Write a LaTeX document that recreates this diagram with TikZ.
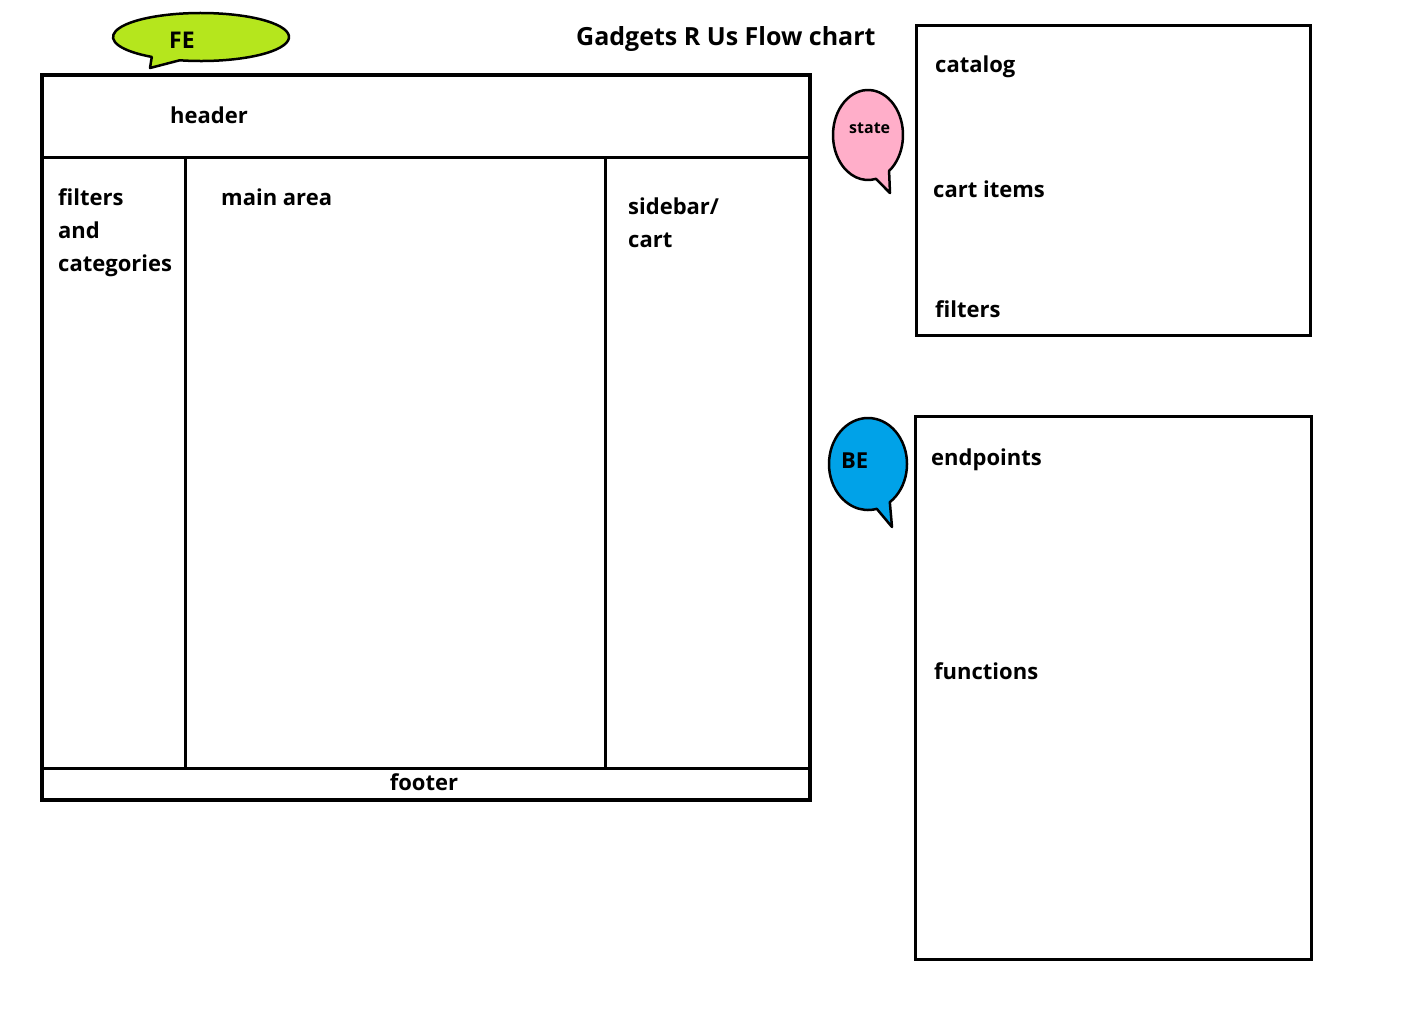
\documentclass[tikz,border=0pt]{standalone}
\usepackage{fontspec}
\setmainfont{Open Sans}
\usepackage{tikz}
\definecolor{fegreen}{HTML}{B5E61D}
\definecolor{statepink}{HTML}{FFAEC9}
\definecolor{beblue}{HTML}{00A2E8}
\tikzset{
  lbl/.style={font=\bfseries\fontsize{22}{33}\selectfont, inner sep=0pt, anchor=base west, align=left},
  bubble/.style={draw=black, line width=2.5pt, line join=round},
  thick box/.style={draw=black, line width=4pt},
  thin line/.style={draw=black, line width=3pt}
}
\begin{document}
\begin{tikzpicture}[x=1pt,y=1pt]
\useasboundingbox (0,-1015) rectangle (1410,0);
% speech bubbles
\filldraw[bubble, fill=fegreen] (201,-37) ++(256:88 and 24)
  arc[start angle=256, end angle=596, x radius=88, y radius=24] -- (150,-68) -- cycle;
\filldraw[bubble, fill=statepink] (868,-135) ++(307:35 and 45)
  arc[start angle=307, end angle=643, x radius=35, y radius=45] -- (890,-193) -- cycle;
\filldraw[bubble, fill=beblue] (868,-464) ++(304:39 and 46)
  arc[start angle=304, end angle=643, x radius=39, y radius=46] -- (892,-527) -- cycle;
% page layout
\draw[thin line] (42,-157.5)--(810,-157.5);
\draw[thin line] (185.5,-157.5)--(185.5,-768.5);
\draw[thin line] (605.5,-157.5)--(605.5,-768.5);
\draw[thin line] (42,-768.5)--(810,-768.5);
\draw[thick box] (42,-75) rectangle (810,-799.5);
% state and back end
\draw[thin line] (916.5,-25.5) rectangle (1310.5,-335);
\draw[thin line] (915.5,-416.5) rectangle (1311,-959);
% labels (multi-line ones sit on their last baseline)
\node (title) at (576,-45) [lbl, font=\bfseries\fontsize{25}{30}\selectfont]{Gadgets R Us Flow chart};
\node (fe) at (169,-48) [lbl, font=\bfseries\fontsize{23}{30}\selectfont]{FE};
\node (header) at (170,-123) [lbl]{header};
\node (filters) at (58,-271) [lbl]{filters\\and\\categories};
\node (mainarea) at (221,-205) [lbl]{main area};
\node (sidebar) at (628,-247) [lbl]{sidebar/\\cart};
\node (footer) at (424,-790) [lbl, anchor=base]{footer};
\node (catalog) at (935,-72) [lbl]{catalog};
\node (state) at (849,-133) [lbl, font=\bfseries\fontsize{16}{18}\selectfont]{state};
\node (cartitems) at (933,-197) [lbl]{cart items};
\node (stfilters) at (935,-317) [lbl]{filters};
\node (be) at (841,-468) [lbl]{BE};
\node (endpoints) at (931,-465) [lbl]{endpoints};
\node (functions) at (934,-679) [lbl]{functions};
\end{tikzpicture}
\end{document}
